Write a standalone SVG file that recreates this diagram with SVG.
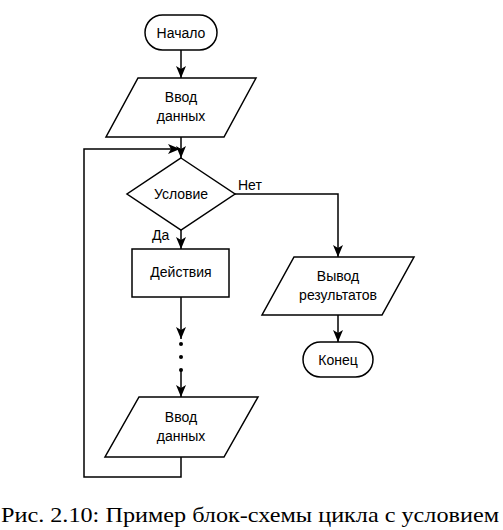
<svg xmlns="http://www.w3.org/2000/svg" width="503" height="530" viewBox="0 0 503 530">
<style>
.s{fill:#fff;stroke:#000;stroke-width:1.5}
.t{font-family:"Liberation Sans",Arial,sans-serif;font-size:14px;text-anchor:middle;fill:#000}
.l{font-family:"Liberation Sans",Arial,sans-serif;font-size:14px;fill:#000}
.c{fill:none;stroke:#000;stroke-width:1.5}
.cap{font-family:"Liberation Serif","Times New Roman",serif;font-size:22px;fill:#000}
</style>
<defs>
<marker id="a" viewBox="0 0 12 10" refX="12" refY="5" markerWidth="12" markerHeight="10" markerUnits="userSpaceOnUse" orient="auto">
<path d="M0,0 L12,5 L0,10 L3,5 Z" fill="#000"/>
</marker>
</defs>
<rect width="503" height="530" fill="#fff"/>
<g id="connectors">
<line class="c" x1="181" y1="50" x2="181" y2="78" marker-end="url(#a)"/>
<line class="c" x1="181" y1="137" x2="181" y2="158" marker-end="url(#a)"/>
<line class="c" x1="181" y1="230" x2="181" y2="249" marker-end="url(#a)"/>
<line class="c" x1="181" y1="297" x2="181" y2="339" marker-end="url(#a)"/>
<circle cx="181" cy="344" r="2" fill="#000"/>
<circle cx="181" cy="357" r="2" fill="#000"/>
<circle cx="181" cy="370" r="2" fill="#000"/>
<line class="c" x1="181" y1="370" x2="181" y2="397" marker-end="url(#a)"/>
<polyline class="c" points="181,457 181,477 84,477 84,149 180,149" marker-end="url(#a)"/>
<polyline class="c" points="235,194 338,194 338,257" marker-end="url(#a)"/>
<line class="c" x1="338" y1="315" x2="338" y2="342" marker-end="url(#a)"/>
<text class="l" x="238" y="190">Нет</text>
<text class="l" x="152" y="240">Да</text>
</g>
<g id="start">
<rect class="s" x="145" y="15" width="72" height="35" rx="17.5"/>
<text class="t" x="181" y="38">Начало</text>
</g>
<g id="input1">
<polygon class="s" points="138,78 256,78 224,137 106,137"/>
<text class="t" x="181" y="102">Ввод</text>
<text class="t" x="181" y="121">данных</text>
</g>
<g id="condition">
<polygon class="s" points="181,158 235,194 181,230 127,194"/>
<text class="t" x="181" y="199">Условие</text>
</g>
<g id="actions">
<rect class="s" x="132" y="249" width="97" height="48"/>
<text class="t" x="181" y="277">Действия</text>
</g>
<g id="input2">
<polygon class="s" points="139,397 258,397 224,457 105,457"/>
<text class="t" x="181" y="422">Ввод</text>
<text class="t" x="181" y="441">данных</text>
</g>
<g id="output">
<polygon class="s" points="294,257 414,257 382,315 262,315"/>
<text class="t" x="338" y="281">Вывод</text>
<text class="t" x="338" y="300">результатов</text>
</g>
<g id="end">
<rect class="s" x="303" y="342" width="70" height="35" rx="17.5"/>
<text class="t" x="338" y="365">Конец</text>
</g>
<text class="cap" x="1" y="522" textLength="498" lengthAdjust="spacingAndGlyphs">Рис. 2.10: Пример блок-схемы цикла с условием</text>
</svg>
